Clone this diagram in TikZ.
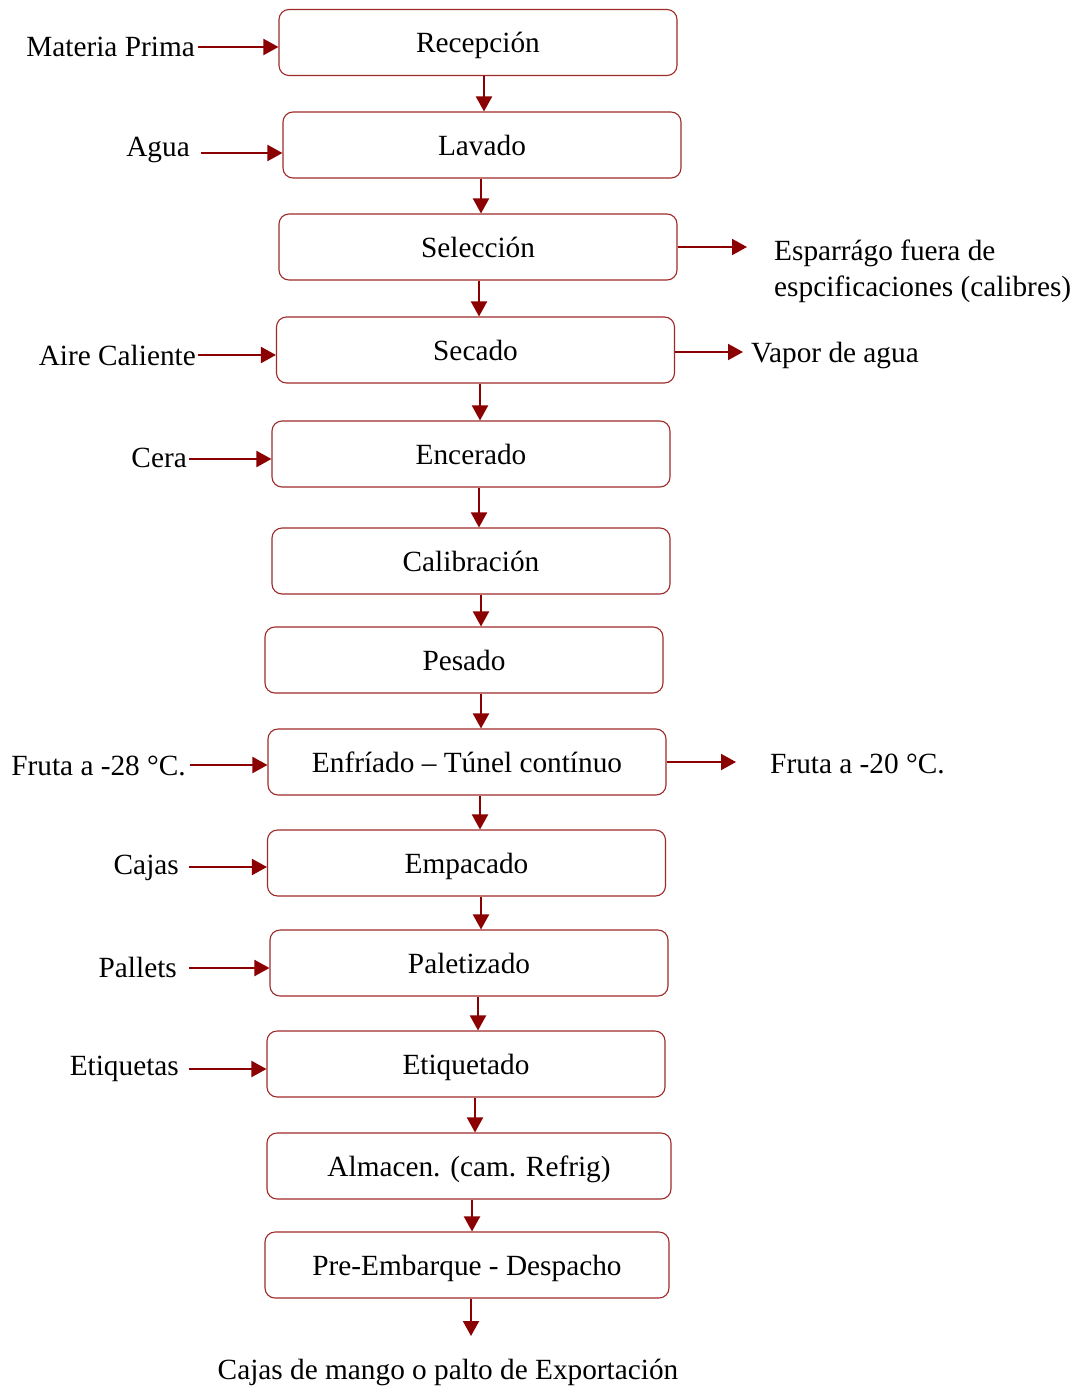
\documentclass[tikz,border=0pt]{standalone}
\usepackage{fontspec}
\setmainfont{Liberation Serif}
\usetikzlibrary{arrows.meta}
\definecolor{dred}{HTML}{8B0000}
\definecolor{bred}{HTML}{9E2A2A}
\begin{document}
\begin{tikzpicture}[x=1pt,y=-1pt,
  proc/.style={draw=bred, line width=1.1pt, rounded corners=10pt, minimum width=398pt, minimum height=66pt, inner sep=0pt, font=\fontsize{29.3}{34}\selectfont, text depth=0pt},
  lbl/.style={inner sep=0pt, font=\fontsize{29.3}{36}\selectfont},
  arr/.style={draw=dred, line width=2pt, -{Triangle[length=15pt,width=16pt]}}]
\useasboundingbox (0,0) rectangle (1078,1389);
% process boxes (centre x, centre y)
\node[proc] (r1) at (478,42.5) {Recepción};
\node[proc] (r2) at (482,145) {Lavado};
\node[proc] (r3) at (478,247) {Selección};
\node[proc] (r4) at (475.5,350) {Secado};
\node[proc] (r5) at (471,454) {Encerado};
\node[proc] (r6) at (471,561) {Calibración};
\node[proc] (r7) at (464,660) {Pesado};
\node[proc] (r8) at (467,762) {Enfríado – Túnel contínuo};
\node[proc] (r9) at (466.5,863) {Empacado};
\node[proc] (r10) at (469,963) {Paletizado};
\node[proc] (r11) at (466,1064) {Etiquetado};
\node[proc, minimum width=404pt] (r12) at (469,1166) {Almacen. (cam. Refrig)};
\node[proc, minimum width=404pt] (r13) at (467,1265) {Pre-Embarque - Despacho};
\coordinate (out) at (471,1336);
\node[lbl] (fin) at (448,1372) {Cajas de mango o palto de Exportación};
% vertical connectors
\draw[arr] (r1.south -| 484,0) -- (r2.north -| 484,0);
\draw[arr] (r2.south -| 481,0) -- (r3.north -| 481,0);
\draw[arr] (r3.south -| 479,0) -- (r4.north -| 479,0);
\draw[arr] (r4.south -| 480,0) -- (r5.north -| 480,0);
\draw[arr] (r5.south -| 479,0) -- (r6.north -| 479,0);
\draw[arr] (r6.south -| 481,0) -- (r7.north -| 481,0);
\draw[arr] (r7.south -| 481,0) -- (r8.north -| 481,0);
\draw[arr] (r8.south -| 480,0) -- (r9.north -| 480,0);
\draw[arr] (r9.south -| 481,0) -- (r10.north -| 481,0);
\draw[arr] (r10.south -| 478,0) -- (r11.north -| 478,0);
\draw[arr] (r11.south -| 475,0) -- (r12.north -| 475,0);
\draw[arr] (r12.south -| 472,0) -- (r13.north -| 472,0);
\draw[arr] (r13.south -| out) -- (out);
% left inputs
\node[lbl, anchor=east] (i1) at (195,47) {Materia Prima};
\node[lbl, anchor=east] (i2) at (190,150) {Agua};
\node[lbl, anchor=east] (i4) at (196,355) {Aire Caliente};
\node[lbl, anchor=east] (i5) at (187,458) {Cera};
\node[lbl, anchor=east] (i8) at (186,766) {Fruta a -28 °C.};
\node[lbl, anchor=east] (i9) at (179,868) {Cajas};
\node[lbl, anchor=east] (i10) at (177,967) {Pallets};
\node[lbl, anchor=east] (i11) at (179,1069) {Etiquetas};
\draw[arr] (198,47) -- (r1.west |- 0,47);
\draw[arr] (201,153) -- (r2.west |- 0,153);
\draw[arr] (198,355) -- (r4.west |- 0,355);
\draw[arr] (189,459) -- (r5.west |- 0,459);
\draw[arr] (190,765) -- (r8.west |- 0,765);
\draw[arr] (189,867) -- (r9.west |- 0,867);
\draw[arr] (189,968) -- (r10.west |- 0,968);
\draw[arr] (189,1069) -- (r11.west |- 0,1069);
% right outputs
\node[lbl, anchor=west, align=left] (o3) at (774,271) {Esparrágo fuera de\\espcificaciones (calibres)};
\node[lbl, anchor=west] (o4) at (751,355) {Vapor de agua};
\node[lbl, anchor=west] (o8) at (770,764) {Fruta a -20 °C.};
\coordinate (o3a) at (747,247);
\coordinate (o4a) at (743,352);
\coordinate (o8a) at (736,762);
\draw[arr] (r3.east |- o3a) -- (o3a);
\draw[arr] (r4.east |- o4a) -- (o4a);
\draw[arr] (r8.east |- o8a) -- (o8a);
\end{tikzpicture}
\end{document}
